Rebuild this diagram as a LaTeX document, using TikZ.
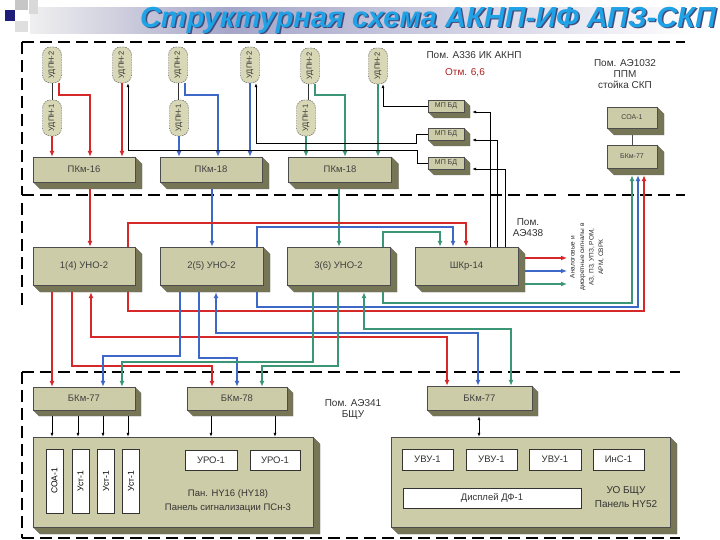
\documentclass[tikz,border=0pt]{standalone}
\usepackage{fontspec}
\setmainfont{Liberation Sans}
\usetikzlibrary{arrows.meta,calc}
\definecolor{bfront}{RGB}{204,204,168}
\definecolor{bside}{RGB}{118,118,86}
\definecolor{capfill}{RGB}{216,216,182}
\definecolor{redc}{RGB}{214,40,40}
\definecolor{bluec}{RGB}{62,104,200}
\definecolor{tealc}{RGB}{58,150,116}
\definecolor{titlec}{RGB}{32,162,230}
\definecolor{titlesh}{RGB}{20,30,90}
\definecolor{navyd}{RGB}{30,30,120}
\tikzset{
  boxfront/.style={draw=black!70, line width=0.4pt, fill=bfront, inner sep=0pt, font=\fontsize{9.5}{10}\selectfont, text=black!75},
  capsule/.style={draw=black!70, line width=0.4pt, dash pattern=on 1.5pt off 1pt, rounded corners=8pt, fill=capfill, minimum width=19pt, minimum height=36pt, inner sep=0pt},
  caplabel/.style={rotate=90, font=\fontsize{7.5}{8}\selectfont, text=black!80},
  cl/.style={line width=1.6pt, -{Latex[length=6pt,width=5pt]}},
  cll/.style={line width=1.6pt, {Latex[length=6pt,width=5pt]}-{Latex[length=6pt,width=5pt]}},
  bl/.style={line width=0.7pt, black, -{Latex[length=4pt,width=3pt]}},
  bll/.style={line width=0.7pt, black, {Latex[length=4pt,width=3pt]}-{Latex[length=4pt,width=3pt]}},
  region/.style={line width=1.2pt, black, dash pattern=on 12pt off 6pt},
  whitebox/.style={draw=black!80, line width=0.4pt, fill=white, inner sep=0pt, font=\fontsize{9.5}{10}\selectfont, text=black!80},
  lbl/.style={font=\fontsize{10}{11}\selectfont, text=black!80, align=center, inner sep=0pt}
}
\newcommand{\threedbox}[8]{%
  \fill[bside, draw=black!60, line width=0.3pt] ({#2-#4/2},{#3+#5/2}) -- ++(#6,#6) -- ++(#4,0) -- ++(0,-#5) -- ++(-#6,-#6) -- cycle;
  \node[boxfront, minimum width=#4, minimum height=#5, #8] (#1) at (#2,#3) {#7};
}
\begin{document}
\begin{tikzpicture}[x=1pt,y=-1pt]
\useasboundingbox (0,0) rectangle (720,540);
% title bar
\shade[left color=gray!12, right color=navyd!40] (30,8) rectangle (230,34);
\shade[left color=navyd!40, right color=white] (230,8) rectangle (700,34);
\fill[gray!45] (15,0) rectangle (28,10);
\fill[gray!30] (29,0) rectangle (38,14);
\fill[navyd] (5,10) rectangle (15,21);
\fill[gray!25] (15,21) rectangle (28,32);
\node[font=\fontsize{29}{31}\selectfont\bfseries\itshape, text=titlesh!80, inner sep=0pt] at (429.5,21.5) {Структурная схема АКНП-ИФ АПЗ-СКП};
\node[font=\fontsize{29}{31}\selectfont\bfseries\itshape, text=titlec, inner sep=0pt] (title) at (428,20) {Структурная схема АКНП-ИФ АПЗ-СКП};

% regions
\draw[region] (22,42) -- (557,42);
\draw[region] (568,42) -- (685,42);
\draw[region] (22,42) -- (22,195);
\draw[region] (22,195) -- (557,195);
\draw[region] (568,195) -- (685,195);
\draw[region] (22,203) -- (22,305);
\draw[region] (22,372) -- (680,372);
\draw[region] (22,538) -- (680,538);
\draw[region] (22,372) -- (22,538);

% region labels
\node[lbl] at (474,55) {Пом. А336 ИК АКНП};
\node[lbl, text=redc!80!black] at (465,73) {Отм. 6,6};
\node[lbl, align=center] at (625,74) {Пом. АЭ1032\\ППМ\\стойка СКП};
\node[lbl] at (528,228) {Пом.\\АЭ438};
\node[lbl] at (353,410) {Пом. АЭ341\\БЩУ};

% detectors
\node[capsule] (A1) at (52,65) {}; \node[caplabel] at (A1) {УДПН-2};
\node[capsule] (A2) at (52,118) {}; \node[caplabel] at (A2) {УДПН-1};
\node[capsule] (A3) at (122,65) {}; \node[caplabel] at (A3) {УДПН-2};
\node[capsule] (B1) at (178,65) {}; \node[caplabel] at (B1) {УДПН-2};
\node[capsule] (B2) at (179,118) {}; \node[caplabel] at (B2) {УДПН-1};
\node[capsule] (B3) at (250,65) {}; \node[caplabel] at (B3) {УДПН-2};
\node[capsule] (C1) at (310,66) {}; \node[caplabel] at (C1) {УДПН-2};
\node[capsule] (C2) at (306,118) {}; \node[caplabel] at (C2) {УДПН-1};
\node[capsule] (C3) at (378,66) {}; \node[caplabel] at (C3) {УДПН-2};
\draw[black!80, line width=0.6pt] (A1) -- (A2);
\draw[black!80, line width=0.6pt] (B1.south) -- (B1.south |- B2.north);
\draw[black!80, line width=0.6pt] (C2.north -| 308,0) -- (308,0 |- C1.south);

% top boxes
\threedbox{pk1}{84}{169.5}{102}{25}{7}{ПКм-16}{}
\threedbox{pk2}{211}{169.5}{102}{25}{7}{ПКм-18}{}
\threedbox{pk3}{340}{169.5}{103}{25}{7}{ПКм-18}{}
\threedbox{mp1}{446}{106}{36}{12}{6}{МП БД}{font=\fontsize{7}{8}\selectfont}
\threedbox{mp2}{446}{134}{36}{12}{6}{МП БД}{font=\fontsize{7}{8}\selectfont}
\threedbox{mp3}{446}{163}{36}{12}{6}{МП БД}{font=\fontsize{7}{8}\selectfont}
\threedbox{soa}{632}{117.5}{50}{21}{7}{СОА-1}{font=\fontsize{7}{8}\selectfont}
\threedbox{bkr}{632}{156.5}{50}{23}{7}{БКм-77}{font=\fontsize{7}{8}\selectfont}
\draw[black!70, line width=0.5pt] ($(soa.south)+(0,7)$) -- (bkr.north);

% detector -> PKm
\draw[cl, redc] (A2.south) -- (A2.south |- pk1.north);
\draw[cl, redc] (59,0 |- A1.south) -- (59,95) -- (90,95) -- (90,0 |- pk1.north);
\draw[cl, redc] (A3.south) -- (A3.south |- pk1.north);
\draw[cl, bluec] (B2.south) -- (B2.south |- pk2.north);
\draw[cl, bluec] (185,0 |- B1.south) -- (185,95) -- (218,95) -- (218,0 |- pk2.north);
\draw[cl, bluec] (B3.south) -- (B3.south |- pk2.north);
\draw[cl, tealc] (C2.south) -- (C2.south |- pk3.north);
\draw[cl, tealc] (315,0 |- C1.south) -- (315,95) -- (345,95) -- (345,0 |- pk3.north);
\draw[cl, tealc] (C3.south) -- (C3.south |- pk3.north);

% MP BD -> detectors
\draw[bl] (mp3.west) -- (417,0 |- mp3.west) -- (417,150) -- (128,150) -- (128,0 |- A3.south);
\draw[bl] (mp2.west) -- (416,0 |- mp2.west) -- (416,143) -- (256,143) -- (256,0 |- B3.south);
\draw[bl] (mp1.west) -- (383,0 |- mp1.west) -- (383,0 |- C3.south);

% middle boxes
\threedbox{uno1}{84}{266}{102}{38}{7}{1(4) УНО-2}{}
\threedbox{uno2}{211.5}{266}{103}{38}{7}{2(5) УНО-2}{}
\threedbox{uno3}{338.5}{266}{103}{38}{7}{3(6) УНО-2}{}
\threedbox{shkr}{466.5}{266}{103}{38}{7}{ШКр-14}{}

% ShKr -> MP BD
\draw[bl] (490,0 |- shkr.north) |- ($(mp1.east)+(8,6)$);
\draw[bl] (497,0 |- shkr.north) |- ($(mp2.east)+(8,6)$);
\draw[bl] (505,0 |- shkr.north) |- ($(mp3.east)+(8,6)$);

% PKm -> UNO
\draw[cl, redc] (90,0 |- pk1.south) ++(0,7) -- (90,0 |- uno1.north);
\draw[cl, bluec] (212,0 |- pk2.south) ++(0,7) -- (212,0 |- uno2.north);
\draw[cl, tealc] (339,0 |- pk3.south) ++(0,7) -- (339,0 |- uno3.north);

% UNO top -> ShKr
\draw[cl, redc] (128,0 |- uno1.north) -- (128,223) -- (466,223) -- (466,0 |- shkr.north);
\draw[cl, bluec] (257,0 |- uno2.north) -- (257,227) -- (453,227) -- (453,0 |- shkr.north);
\draw[cl, tealc] (383,0 |- uno3.north) -- (383,232) -- (440,232) -- (440,0 |- shkr.north);

% ShKr outputs
\coordinate (o1) at (567,258);
\coordinate (o2) at (567,271);
\coordinate (o3) at (567,284);
\draw[cl, redc] (525,0 |- o1) -- (o1);
\draw[cl, bluec] (525,0 |- o2) -- (o2);
\draw[cl, tealc] (525,0 |- o3) -- (o3);
\node[rotate=90, font=\fontsize{6.5}{9.5}\selectfont, align=center, text=black!85, inner sep=0pt] (sig) at (587,257) {Аналоговые и\\дискретные сигналы в\\АЗ, ПЗ, УПЗ, РОМ,\\АРМ, СВРК};

% UNO bottom -> SKP rack
\draw[cl, tealc] (383,0 |- uno3.south) ++(0,7) -- (383,303) -- (632,303) -- ($(632,0 |- bkr.south)+(0,7)$);
\draw[cl, bluec] (257,0 |- uno2.south) ++(0,7) -- (257,307) -- (638,307) -- ($(638,0 |- bkr.south)+(0,7)$);
\draw[cl, redc] (128,0 |- uno1.south) ++(0,7) -- (128,311) -- (644,311) -- ($(644,0 |- bkr.south)+(0,7)$);

% bottom boxes
\threedbox{bk1}{84}{398.5}{102}{23}{6}{БКм-77}{}
\threedbox{bk2}{237}{398.5}{100}{23}{6}{БКм-78}{}
\threedbox{bk3}{479.5}{398}{105}{24}{6}{БКм-77}{}

% UNO <-> right BKm-77
\draw[cll, redc] (91,0 |- uno1.south) ++(0,7) -- (91,337) -- (447,337) -- (447,0 |- bk3.north);
\draw[cll, bluec] (216,0 |- uno2.south) ++(0,7) -- (216,333) -- (478,333) -- (478,0 |- bk3.north);
\draw[cll, tealc] (364,0 |- uno3.south) ++(0,7) -- (364,329) -- (511,329) -- (511,0 |- bk3.north);

% UNO -> BKm-77 / BKm-78
\draw[cl, redc] (52,0 |- uno1.south) ++(0,7) -- (52,0 |- bk1.north);
\draw[cl, redc] (72,0 |- uno1.south) ++(0,7) -- (72,366) -- (212,366) -- (212,0 |- bk2.north);
\draw[cl, bluec] (180,0 |- uno2.south) ++(0,7) -- (180,356) -- (103,356) -- (103,0 |- bk1.north);
\draw[cl, bluec] (199,0 |- uno2.south) ++(0,7) -- (199,358) -- (237,358) -- (237,0 |- bk2.north);
\draw[cl, tealc] (313,0 |- uno3.south) ++(0,7) -- (313,362) -- (122,362) -- (122,0 |- bk1.north);
\draw[cl, tealc] (338,0 |- uno3.south) ++(0,7) -- (338,366) -- (262,366) -- (262,0 |- bk2.north);

% panels
\threedbox{pl}{173}{482}{280}{90}{7}{}{}
\threedbox{pr}{530.5}{482}{279}{90}{7}{}{}

\node[whitebox, minimum width=17, minimum height=64] (s1) at (54.5,481) {};
\node[rotate=90, font=\fontsize{8.5}{9}\selectfont] at (s1) {СОА-1};
\node[whitebox, minimum width=17, minimum height=64] (s2) at (80.5,481) {};
\node[rotate=90, font=\fontsize{8.5}{9}\selectfont] at (s2) {Уст-1};
\node[whitebox, minimum width=17, minimum height=64] (s3) at (106,481) {};
\node[rotate=90, font=\fontsize{8.5}{9}\selectfont] at (s3) {Уст-1};
\node[whitebox, minimum width=17, minimum height=64] (s4) at (131,481) {};
\node[rotate=90, font=\fontsize{8.5}{9}\selectfont] at (s4) {Уст-1};
\node[whitebox, minimum width=52, minimum height=20] (u1) at (211,460) {УРО-1};
\node[whitebox, minimum width=50, minimum height=20] (u2) at (275,460) {УРО-1};
\node[lbl, font=\fontsize{9.5}{14}\selectfont] at (228,501) {Пан. HY16 (HY18)\\Панель сигнализации ПСн-3};

\node[whitebox, minimum width=51, minimum height=21] (v1) at (427.5,459.5) {УВУ-1};
\node[whitebox, minimum width=51, minimum height=21] (v2) at (491.5,459.5) {УВУ-1};
\node[whitebox, minimum width=52, minimum height=21] (v3) at (555,459.5) {УВУ-1};
\node[whitebox, minimum width=51, minimum height=21] (v4) at (618.5,459.5) {ИнС-1};
\node[whitebox, minimum width=178, minimum height=20] (disp) at (492,498) {Дисплей ДФ-1};
\node[lbl, font=\fontsize{10}{14}\selectfont] at (626,497) {УО БЩУ\\Панель HY52};

% BKm -> panels
\foreach \x in {52,78,103,128} \draw[bl] (\x,0 |- bk1.south) ++(0,6) -- (\x,0 |- pl.north);
\draw[bl] (u1.north |- bk2.south) ++(0,6) -- (u1.north |- pl.north);
\draw[bl] (u2.north |- bk2.south) ++(0,6) -- (u2.north |- pl.north);
\draw[bll] (479,0 |- bk3.south) ++(0,6) -- (479,0 |- pr.north);
\end{tikzpicture}
\end{document}
